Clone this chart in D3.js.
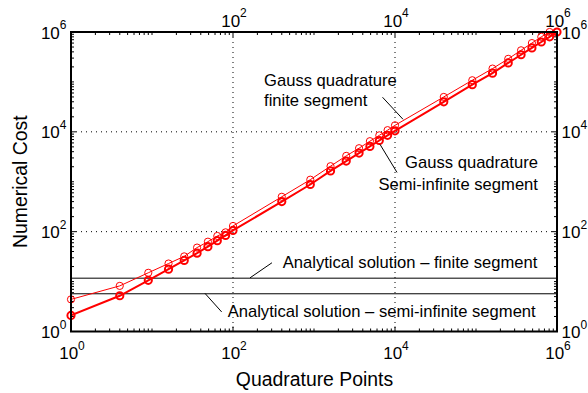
<!DOCTYPE html>
<html>
<head>
<meta charset="utf-8">
<script src="https://cdn.jsdelivr.net/npm/d3@7"></script>
<style>
  html, body { margin: 0; padding: 0; background: #fff; }
  svg { display: block; font-family: "Liberation Sans", Arial, Helvetica, sans-serif; }
</style>
</head>
<body>
<div id="chart"></div>
<script>
// quadrature points (x) and the cost of each method
const POINTS = [1, 4, 9, 16, 25, 36, 49, 64, 81, 100,
  400, 900, 1600, 2500, 3600, 4900, 6400, 8100, 10000,
  40000, 90000, 160000, 250000, 360000, 490000, 640000, 810000, 1000000];
const COST_FINITE = [4.4, 8.2, 15, 23, 32, 48, 63, 82, 97, 130,
  500, 1100, 2050, 3300, 4700, 6500, 8500, 10800, 13500,
  50000, 108000, 185000, 290000, 430000, 600000, 800000, 1000000, 1300000];
const COST_SEMI = [2.1, 5.2, 10.6, 17.7, 26.5, 37, 50, 66, 84, 106,
  400, 880, 1650, 2600, 3750, 5100, 6700, 8500, 10500,
  40000, 88000, 150000, 240000, 350000, 480000, 630000, 800000, 1000000];
const ANALYTICAL_FINITE = 11.7;
const ANALYTICAL_SEMI = 5.7;
const MAJOR_TICKS = [1, 1e2, 1e4, 1e6];
const TOP_LABELS = [1e2, 1e4, 1e6];
const GRID_TICKS = [1e2, 1e4];

// annotations, positioned in data space (log10 exponents)
const LABELS = [
  { lines: ["Gauss quadrature", "finite segment"], lx: 2.383, ly: [4.915, 4.513], anchor: "start" },
  { lines: ["Gauss quadrature", "Semi-infinite segment"], lx: 5.765, ly: [3.266, 2.844], anchor: "end" },
  { lines: ["Analytical solution – finite segment"], lx: 2.614, ly: [1.266], anchor: "start" },
  { lines: ["Analytical solution – semi-infinite segment"], lx: 1.934, ly: [0.297], anchor: "start" },
];
const LEADERS = [
  [[3.846, 4.693], [4.099, 4.251]],
  [[3.815, 3.749], [4.025, 3.186]],
  [[2.481, 1.377], [2.21, 1.075]],
  [[1.654, 0.764], [1.86, 0.392]],
];

const W = 588, H = 393;
const margin = { top: 32, right: 31, bottom: 61.5, left: 71 };
const width = W - margin.left - margin.right;
const height = H - margin.top - margin.bottom;

const x = d3.scaleLog().domain([1, 1e6]).range([0, width]);
const y = d3.scaleLog().domain([1, 1e6]).range([height, 0]);

const svg = d3.select("#chart").append("svg")
  .attr("width", W).attr("height", H);
svg.append("rect").attr("width", W).attr("height", H).attr("fill", "#fff");

const g = svg.append("g").attr("transform", `translate(${margin.left},${margin.top})`);

svg.append("defs").append("clipPath").attr("id", "plot-clip")
  .append("rect").attr("width", width).attr("height", height);

// grid
g.append("g").selectAll("line").data(GRID_TICKS).join("line")
  .attr("x1", (d) => x(d)).attr("x2", (d) => x(d))
  .attr("y1", 0).attr("y2", height)
  .attr("stroke", "#000").attr("stroke-dasharray", "1,4").attr("stroke-width", 1);
g.append("g").selectAll("line").data(GRID_TICKS).join("line")
  .attr("y1", (d) => y(d)).attr("y2", (d) => y(d))
  .attr("x1", 0).attr("x2", width)
  .attr("stroke", "#000").attr("stroke-dasharray", "1,4").attr("stroke-width", 1);

// minor + major ticks, inward on all four sides
const minorTicks = [];
for (let e = 0; e < 6; e++) for (let m = 2; m <= 10; m++) {
  const v = m * 10 ** e;
  if (!MAJOR_TICKS.includes(v)) minorTicks.push(v);
}
const tickG = g.append("g").attr("stroke", "#000").attr("stroke-width", 1);
function drawTicks(values, len) {
  for (const v of values) {
    tickG.append("line").attr("x1", x(v)).attr("x2", x(v)).attr("y1", height).attr("y2", height - len);
    tickG.append("line").attr("x1", x(v)).attr("x2", x(v)).attr("y1", 0).attr("y2", len);
    tickG.append("line").attr("y1", y(v)).attr("y2", y(v)).attr("x1", 0).attr("x2", len);
    tickG.append("line").attr("y1", y(v)).attr("y2", y(v)).attr("x1", width).attr("x2", width - len);
  }
}
drawTicks(minorTicks, 3);
drawTicks(MAJOR_TICKS, 5);

// analytical solutions
g.append("g").selectAll("line").data([ANALYTICAL_FINITE, ANALYTICAL_SEMI]).join("line")
  .attr("x1", 0).attr("x2", width)
  .attr("y1", (d) => y(d)).attr("y2", (d) => y(d))
  .attr("stroke", "#000").attr("stroke-width", 1);

// Gauss quadrature series
const series = [
  { values: COST_FINITE, lw: 1 },
  { values: COST_SEMI, lw: 2 },
];
const line = d3.line().x((d) => x(d[0])).y((d) => y(d[1]));
for (const s of series) {
  const pts = POINTS.map((p, i) => [p, s.values[i]]);
  g.append("path").datum(pts)
    .attr("clip-path", "url(#plot-clip)")
    .attr("fill", "none").attr("stroke", "#ff0000").attr("stroke-width", s.lw)
    .attr("d", line);
  g.append("g").selectAll("circle")
    .data(pts.filter((d) => d[1] <= 1e6))
    .join("circle")
    .attr("cx", (d) => x(d[0])).attr("cy", (d) => y(d[1]))
    .attr("r", 3.6)
    .attr("fill", "none").attr("stroke", "#ff0000").attr("stroke-width", s.lw);
}

// box
g.append("rect").attr("width", width).attr("height", height)
  .attr("fill", "none").attr("stroke", "#000").attr("stroke-width", 2);

// tick labels "10^k"
function powLabel(sel, v) {
  const e = Math.round(Math.log10(v));
  sel.append("tspan").text("10");
  sel.append("tspan").attr("font-size", 12).attr("dy", -9.5).text(e);
}
const lab = g.append("g").attr("font-size", 17).attr("fill", "#000");
for (const v of MAJOR_TICKS) {
  lab.append("text").attr("x", -4.5).attr("y", y(v) + 6.5).attr("text-anchor", "end").call(powLabel, v);
  lab.append("text").attr("x", width + 4.5).attr("y", y(v) + 6.5).attr("text-anchor", "start").call(powLabel, v);
  lab.append("text").attr("x", x(v) + 1).attr("y", height + 27.5).attr("text-anchor", "middle").call(powLabel, v);
}
for (const v of TOP_LABELS) {
  lab.append("text").attr("x", x(v) + 1).attr("y", -5.3).attr("text-anchor", "middle").call(powLabel, v);
}

// axis titles
svg.append("text")
  .attr("x", margin.left + width / 2 + 0.5).attr("y", 386)
  .attr("text-anchor", "middle").attr("font-size", 19.4)
  .text("Quadrature Points");
svg.append("text")
  .attr("transform", `translate(27,${margin.top + height / 2}) rotate(-90)`)
  .attr("text-anchor", "middle").attr("font-size", 19.4)
  .text("Numerical Cost");

// annotations
const ann = g.append("g").attr("font-size", 16.6).attr("fill", "#000");
for (const a of LABELS) {
  a.lines.forEach((t, i) => {
    ann.append("text")
      .attr("x", x(10 ** a.lx)).attr("y", y(10 ** a.ly[i]))
      .attr("text-anchor", a.anchor).text(t);
  });
}
g.append("g").selectAll("line").data(LEADERS).join("line")
  .attr("x1", (d) => x(10 ** d[0][0])).attr("y1", (d) => y(10 ** d[0][1]))
  .attr("x2", (d) => x(10 ** d[1][0])).attr("y2", (d) => y(10 ** d[1][1]))
  .attr("stroke", "#000").attr("stroke-width", 1);
</script>
</body>
</html>
